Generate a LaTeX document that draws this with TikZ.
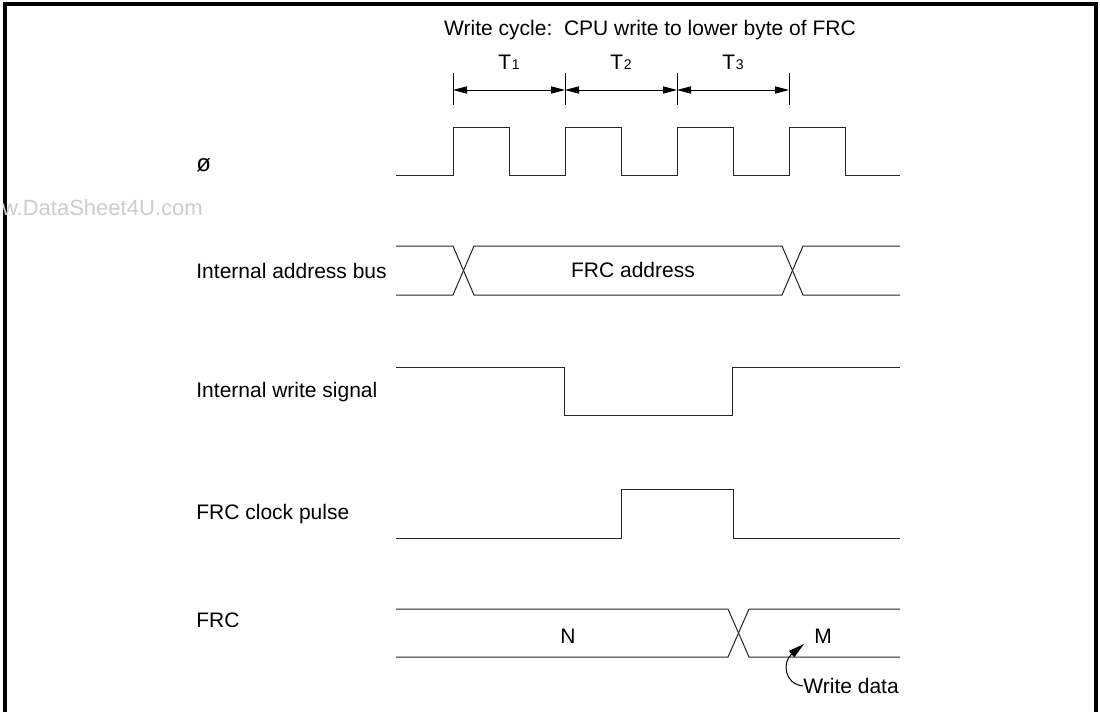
\documentclass[tikz,border=0pt]{standalone}
\usepackage{fontspec}
\setmainfont{Liberation Sans}
\usetikzlibrary{arrows.meta}

\tikzset{
	sig/.style={line width=0.5pt, draw=black!85, line join=miter},
	dimarrow/.style={line width=0.5pt, {Triangle[length=7pt,width=3.6pt]}-{Triangle[length=7pt,width=3.6pt]}},
	lbl/.style={anchor=west, inner sep=0pt},
	frame/.style={line width=2pt}
}
\newcommand{\tsub}[1]{T\kern0.3pt{\scriptsize #1}}

\begin{document}
\begin{tikzpicture}[x=0.5pt,y=-0.5pt,font=\fontsize{10.5}{12.6}\selectfont]
				%\draw[color=gray,step=50, help lines,opacity=0.3] (0,0) grid (1100,712); %help grids
				\useasboundingbox (0,0) rectangle (1100,712);
				\draw[frame] (5,716) -- (5,4) -- (1096,4) -- (1096,716);

				% title and cycle marks
				\node (title) at (650,30) {Write cycle:\ \ CPU write to lower byte of FRC};
				\coordinate (c0) at (453,90);
				\coordinate (c1) at (565,90);
				\coordinate (c2) at (677,90);
				\coordinate (c3) at (789,90);
				\foreach \x in {453,565,677,789} \draw[line width=0.5pt] (\x,73) -- (\x,105);
				\draw[dimarrow] (c0) -- (c1);
				\draw[dimarrow] (c1) -- (c2);
				\draw[dimarrow] (c2) -- (c3);
				\node (t1) at (509,62) {\tsub{1}};
				\node (t2) at (621,62) {\tsub{2}};
				\node (t3) at (733,62) {\tsub{3}};

				% signal names
				\node[lbl] (phi) at (196,165) {\fontsize{12}{14}\selectfont ø};
				\node[lbl] (abus) at (196,271) {Internal address bus};
				\node[lbl] (wsig) at (196,392) {Internal write signal};
				\node[lbl] (cpul) at (196,514) {FRC clock pulse};
				\node[lbl] (frc) at (196,620) {FRC};
				\node[anchor=east, inner sep=0pt, text=black!20, font=\fontsize{11}{13}\selectfont] (wm) at (203,208) {w.DataSheet4U.com};

				% clock
				\draw[sig] (396,175) \foreach \x in {453,565,677,789} { -- (\x,175) -- (\x,127) -- (\x+56,127) -- (\x+56,175)} -- (900,175);

				% address bus
				\draw[sig] (396,246) -- (453,246) -- (474,295) -- (782,295) -- (803,246) -- (900,246);
				\draw[sig] (396,295) -- (453,295) -- (474,246) -- (782,246) -- (803,295) -- (900,295);
				\node (addr) at (633,270) {FRC address};

				% write signal
				\draw[sig] (396,367) -- (564,367) -- (564,415) -- (732,415) -- (732,367) -- (900,367);

				% clock pulse
				\draw[sig] (396,538) -- (621,538) -- (621,489) -- (733,489) -- (733,538) -- (900,538);

				% FRC
				\draw[sig] (396,609) -- (728,609) -- (749,657) -- (900,657);
				\draw[sig] (396,657) -- (728,657) -- (749,609) -- (900,609);
				\node (valn) at (568,636) {N};
				\node (valm) at (823,636) {M};
				\node[lbl] (wd) at (803,686) {Write data};
				\coordinate (wtip) at (804,644);
				\draw[line width=0.5pt, -{Triangle[length=8pt,width=4pt]}] (wd.west) .. controls (784,684) and (782,662) .. (wtip);
\end{tikzpicture}
\end{document}
